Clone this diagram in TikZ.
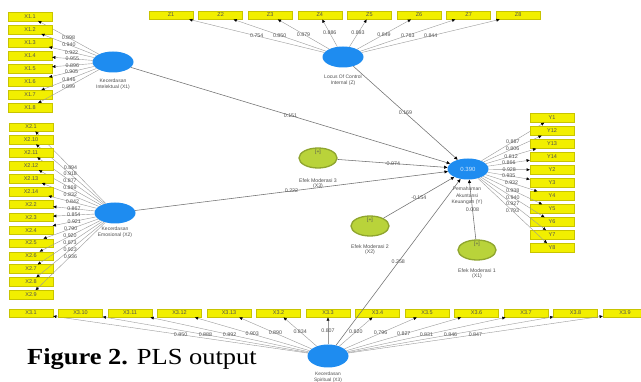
\documentclass[tikz,border=0pt]{standalone}
\usepackage{fontspec}
\usepackage{graphicx}
\setmainfont{Liberation Serif}
\setsansfont{Liberation Sans}
\usetikzlibrary{arrows.meta,shapes.geometric,calc}

\definecolor{indyellow}{HTML}{F2EF00}
\definecolor{indborder}{HTML}{C8C400}
\definecolor{latblue}{HTML}{1E8CF0}
\definecolor{modgreen}{HTML}{B9D33A}
\definecolor{modedge}{HTML}{8FA52E}
\definecolor{loadgray}{HTML}{9A9A9A}
\definecolor{pathgray}{HTML}{707070}
\definecolor{txtgray}{HTML}{505050}

\tikzset{
  ind/.style={draw=indborder, line width=0.4pt, fill=indyellow,
    minimum width=44pt, minimum height=8.5pt, inner sep=0pt,
    font=\sffamily\fontsize{5.5}{6}\selectfont, text=txtgray},
  lat/.style={ellipse, fill=latblue, minimum width=41pt, minimum height=21pt,
    inner sep=0pt},
  moder/.style={ellipse, draw=modedge, line width=1.3pt, fill=modgreen,
    minimum width=38pt, minimum height=20pt, inner sep=0pt},
  latname/.style={font=\sffamily\fontsize{5}{6.3}\selectfont, text=txtgray,
    align=center, inner sep=0pt},
  modname/.style={font=\sffamily\fontsize{5.2}{5.6}\selectfont, text=txtgray,
    align=center, inner sep=0pt},
  plus/.style={font=\sffamily\fontsize{5}{5}\selectfont, text=txtgray, inner sep=0pt},
  ld/.style={font=\sffamily\fontsize{5.3}{5.5}\selectfont, text=txtgray, inner sep=0.3pt},
  outer/.style={draw=loadgray, line width=0.4pt,
    -{Triangle[length=3.2pt,width=2.8pt,black]}},
  inner/.style={draw=pathgray, line width=0.55pt,
    -{Triangle[length=3.4pt,width=3pt,black]}}
}

\begin{document}
\begin{tikzpicture}[x=1pt,y=-1pt]
\useasboundingbox (0,0) rectangle (641,382);
\fill[white] (0,0) rectangle (641,382);

% latent constructs
\node[lat] (X1) at (113,62) {};
\node[lat] (Z) at (343,57) {};
\node[lat] (X2) at (115,213) {};
\node[lat] (Y) at (468,169) {\sffamily\fontsize{6}{6}\selectfont\textcolor{white!80!latblue}{0.390}};
\node[lat, minimum height=23pt] (X3) at (328,356) {};

% moderating effects
\node[moder] (M3) at (318,158) {};
\node[moder] (M2) at (370,226) {};
\node[moder] (M1) at (477,250) {};
\node[plus] (M3p) at ($(M3.north)+(0,5)$) {[+]};
\node[plus] (M2p) at ($(M2.north)+(0,5)$) {[+]};
\node[plus] (M1p) at ($(M1.north)+(0,5)$) {[+]};

% construct names
\node[latname] (X1n) at (113,84.5) {Kecerdasan\\Intelektual (X1)};
\node[latname] (Zn) at (343,80.5) {Locus Of Control\\Internal (Z)};
\node[latname] (X2n) at (115,232.5) {Kecerdasan\\Emosional (X2)};
\node[latname] (Yn) at (467,196) {Pemahaman\\Akuntansi\\Keuangan (Y)};
\node[latname, font=\sffamily\fontsize{4.8}{5.4}\selectfont] (X3n) at (328,377.2)
  {Kecerdasan\\Spiritual (X3)};
\node[modname] (M3n) at (318,183.5) {Efek Moderasi 3\\(X3)};
\node[modname] (M2n) at (370,249.5) {Efek Moderasi 2\\(X2)};
\node[modname] (M1n) at (477,273.5) {Efek Moderasi 1\\(X1)};

% indicators of X1
\foreach \lab/\ld [count=\i] in {X1.1/0.898, X1.2/0.940, X1.3/0.922, X1.4/0.955,
    X1.5/0.896, X1.6/0.905, X1.7/0.846, X1.8/0.899} {
  \node[ind] (x1-\i) at (30,{16.5+13*(\i-1)}) {\lab};
  \draw[outer] (X1) -- node[ld]{\ld} (x1-\i);
}

% indicators of Z
\foreach \lab/\ld [count=\i] in {Z1/0.754, Z2/0.850, Z3/0.879, Z4/0.886,
    Z5/0.893, Z6/0.849, Z7/0.763, Z8/0.844} {
  \node[ind] (z-\i) at ({171+49.6*(\i-1)},15) {\lab};
  \draw[outer] (Z) -- node[ld]{\ld} (z-\i);
}

% indicators of X2
\foreach \lab/\ld [count=\i] in {X2.1/0.894, X2.10/0.918, X2.11/0.877, X2.12/0.869,
    X2.13/0.832, X2.14/0.842, X2.2/0.867, X2.3/0.854, X2.4/0.921, X2.5/0.790,
    X2.6/0.920, X2.7/0.873, X2.8/0.923, X2.9/0.936} {
  \node[ind] (x2-\i) at (31,{127+12.9*(\i-1)}) {\lab};
  \draw[outer] (X2) -- node[ld]{\ld} (x2-\i);
}

% indicators of Y
\foreach \lab/\ld [count=\i] in {Y1/0.887, Y12/0.806, Y13/0.812, Y14/0.866,
    Y2/0.928, Y3/0.935, Y4/0.932, Y5/0.938, Y6/0.940, Y7/0.927, Y8/0.793} {
  \node[ind, minimum height=9pt] (y-\i) at (552,{118+13*(\i-1)}) {\lab};
  \draw[outer] (Y) -- node[ld]{\ld} (y-\i);
}

% indicators of X3
\foreach \lab/\ld [count=\i] in {X3.1/0.850, X3.10/0.888, X3.11/0.892, X3.12/0.903,
    X3.13/0.890, X3.2/0.834, X3.3/0.807, X3.4/0.820, X3.5/0.796, X3.6/0.827,
    X3.7/0.831, X3.8/0.846, X3.9/0.847} {
  \node[ind] (x3-\i) at ({31+49.5*(\i-1)},313) {\lab};
  \draw[outer] (X3) -- node[ld]{\ld} (x3-\i);
}

% structural paths
\draw[inner] (X1) -- node[ld]{0.151} (Y);
\draw[inner] (Z) -- node[ld]{0.169} (Y);
\draw[inner] (X2) -- node[ld]{0.222} (Y);
\draw[inner] (M3) -- node[ld]{-0.074} (Y);
\draw[inner] (M2) -- node[ld]{-0.154} (Y);
\draw[inner] (M1) -- node[ld]{0.008} (Y);
\draw[inner] (X3) -- node[ld]{0.258} (Y);

% caption
\node[anchor=base west, inner sep=0pt, font=\fontsize{23}{23}\selectfont] (capt)
  at (27,365) {\scalebox{1.15}[1]{\textbf{Figure 2.} PLS output}};
\end{tikzpicture}
\end{document}
